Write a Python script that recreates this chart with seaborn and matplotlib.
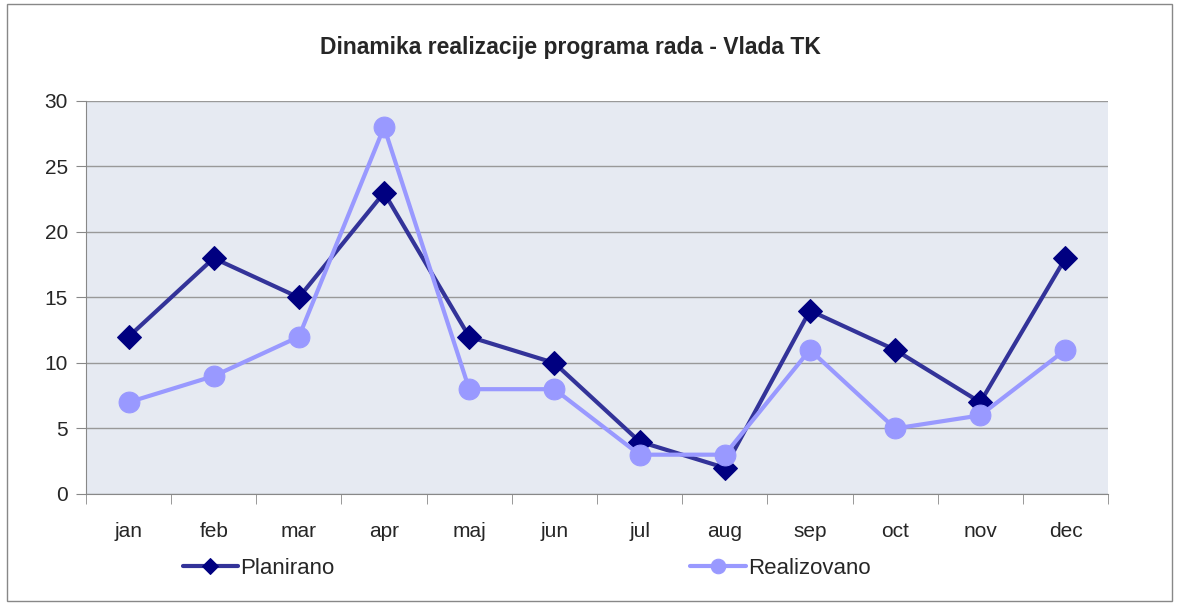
import pandas as pd
import matplotlib
matplotlib.use('Agg')
import matplotlib.pyplot as plt
import seaborn as sns
from matplotlib.patches import Rectangle

# Podaci
mjeseci = ['jan', 'feb', 'mar', 'apr', 'maj', 'jun', 'jul', 'aug', 'sep', 'oct', 'nov', 'dec']
planirano = [12, 18, 15, 23, 12, 10, 4, 2, 14, 11, 7, 18]
realizovano = [7, 9, 12, 28, 8, 8, 3, 3, 11, 5, 6, 11]

df = pd.DataFrame({'mjesec': mjeseci, 'Planirano': planirano, 'Realizovano': realizovano})

sns.set_style('white')
plt.rcParams['font.family'] = ['Liberation Sans', 'DejaVu Sans']

fig = plt.figure(figsize=(11.79, 6.05), dpi=100)
ax = fig.add_axes([0.0729, 0.1835, 0.8669, 0.6496])
ax.set_facecolor('#E6EAF2')

sns.lineplot(data=df, x='mjesec', y='Planirano', ax=ax, sort=False, color='#333399',
             linewidth=3, marker='D', markersize=12, markerfacecolor='#000080',
             markeredgecolor='#000080', label='Planirano')
sns.lineplot(data=df, x='mjesec', y='Realizovano', ax=ax, sort=False, color='#9999FF',
             linewidth=3, marker='o', markersize=15, markerfacecolor='#9999FF',
             markeredgecolor='#9999FF', label='Realizovano')

ax.set_ylim(0, 30)
ax.set_yticks(range(0, 31, 5))
ax.set_xlim(-0.5, len(mjeseci) - 0.5)
ax.set_xticks(range(len(mjeseci)))
ax.set_xticklabels(mjeseci)
ax.set_xticks([i - 0.5 for i in range(len(mjeseci) + 1)], minor=True)
ax.tick_params(axis='x', which='major', length=0, pad=20, labelsize=15)
ax.tick_params(axis='x', which='minor', length=7, color='#888888', direction='out', bottom=True)
ax.tick_params(axis='y', length=7, color='#888888', direction='out', left=True, labelsize=15, pad=6)
ax.grid(axis='y', color='#999999', linewidth=1)
ax.set_axisbelow(True)
ax.set_xlabel('')
ax.set_ylabel('')
for s in ['top', 'right']:
    ax.spines[s].set_visible(False)
for s in ['left', 'bottom']:
    ax.spines[s].set_color('#888888')

ax.legend(loc='center left', bbox_to_anchor=(0.075, -0.19), ncol=2, frameon=False,
          fontsize=16, columnspacing=16, handlelength=2.5, handletextpad=0.1,
          markerscale=0.7)

fig.text(0.484, 0.922, 'Dinamika realizacije programa rada - Vlada TK',
         ha='center', va='center', fontsize=16.5, fontweight='bold')

fig.patches.append(Rectangle((0.006, 0.006), 0.988, 0.988, transform=fig.transFigure,
                             fill=False, edgecolor='#888888', linewidth=1))

plt.savefig('out.png', dpi=100)
plt.close()
